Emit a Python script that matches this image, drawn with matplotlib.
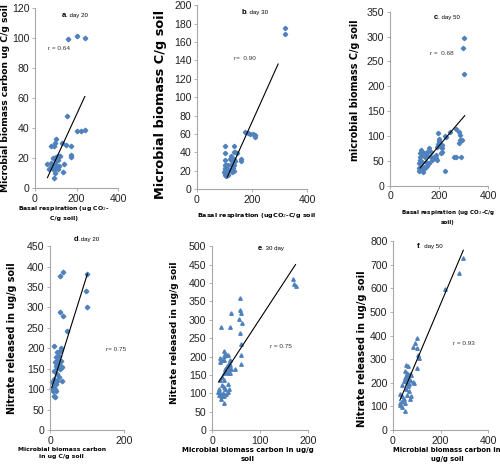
import matplotlib
matplotlib.use("Agg")
import matplotlib.pyplot as plt

# ---- panel a: basal respiration vs microbial biomass carbon, day 20
a_x = [160, 200, 240, 154, 202, 221, 240, 132, 151, 175, 175, 175, 103, 95, 79, 90,
       87, 95, 103, 111, 119, 111, 103, 60, 79, 87, 100, 114, 138, 75, 87, 95, 111,
       135, 95, 90, 84, 68]
a_y = [99, 101, 100, 48, 38, 38, 38.5, 30, 29, 28, 22, 20.5, 32.7, 30, 28, 28,
       20, 20.4, 21, 21.5, 21.5, 19, 18, 16, 17, 15.5, 15.5, 15, 16, 14, 12.7, 12.7, 12.7,
       11, 10.4, 6.7, 14, 12.7]
a_fit_x = [60, 240]
a_fit_y = [7, 61]

# ---- panel b: day 30
b_x = [320, 320, 174, 186, 194, 205, 211, 211, 100, 136, 100, 133, 139, 144, 161, 161,
       100, 120, 128, 100, 106, 114, 122, 133, 100, 100, 111, 119, 97, 106, 128, 136,
       130, 100, 106, 111, 103, 139, 136, 122]
b_y = [175, 169, 62, 61, 60, 60, 59, 57, 47, 47, 39, 40, 40, 39, 33, 30,
       32, 33, 30, 26, 26, 26, 26, 26, 23, 21, 21, 21, 19, 18, 19, 20,
       23, 15.5, 14, 15.5, 17, 30, 33, 36]
b_fit_x = [110, 295]
b_fit_y = [13, 136]

# ---- panel c: day 50
c_x = [303, 297, 301, 268, 281, 284, 284, 292, 281, 245, 230, 224, 261, 268, 288, 224,
       196, 200, 200, 197, 193, 207, 214, 211, 214, 207, 186, 189, 193, 180, 159, 166,
       126, 132, 139, 130, 122, 143, 153, 122, 132, 146, 159, 119, 126, 139, 153, 119,
       130, 119, 135, 173, 143, 166, 124, 153]
c_y = [298, 278, 225, 115, 108, 103, 93, 93, 86, 109, 99, 101, 58, 58, 58, 30,
       106, 95, 90, 85, 78, 79, 83, 75, 68, 65, 61, 55, 51, 58, 75, 68,
       71, 68, 66, 61, 58, 58, 61, 51, 48, 48, 45, 45, 38, 38, 39, 35,
       31, 29, 28, 51, 35, 58, 65, 68]
c_fit_x = [123, 305]
c_fit_y = [36, 141]

# ---- panel d: MBC vs nitrate, day 20
d_x = [101, 98, 101, 27, 36, 27, 36, 47, 11, 29, 27, 20, 24, 15, 20, 14, 24, 32, 20,
       15, 26, 11, 20, 24, 11, 20, 32, 15, 8, 14, 5, 8, 17, 10, 14, 23, 29, 6]
d_y = [382, 341, 302, 376, 386, 288, 280, 242, 206, 201, 194, 190, 182, 178, 170, 166,
       162, 155, 153, 158, 149, 145, 137, 129, 125, 121, 119, 113, 106, 100, 104, 96,
       96, 84, 80, 168, 170, 117]
d_fit_x = [5, 101]
d_fit_y = [104, 382]

# ---- panel e: day 30
e_x = [169, 171, 174, 59, 59, 61, 57, 62, 59, 61, 61, 61, 40, 19, 38, 24, 28, 31, 34,
       26, 17, 21, 17, 24, 37, 36, 38, 31, 28, 36, 40, 48, 29, 24, 33, 38, 21, 17, 26,
       34, 21, 24, 14, 28, 36, 12, 17, 22, 29, 14, 19, 24, 33, 19, 24]
e_y = [410, 397, 392, 358, 326, 319, 301, 292, 265, 234, 204, 181, 317, 281, 281, 215,
       208, 205, 204, 201, 195, 190, 185, 190, 190, 183, 178, 174, 167, 167, 165, 165,
       158, 154, 154, 156, 143, 137, 135, 124, 122, 117, 113, 113, 113, 104, 101, 101,
       99, 95, 92, 92, 104, 85, 74]
e_fit_x = [14, 174]
e_fit_y = [131, 450]

# ---- panel f: day 50
f_x = [296, 277, 221, 99, 91, 86, 100, 107, 110, 103, 53, 63, 49, 60, 71, 53, 63, 74,
       49, 60, 71, 46, 57, 67, 86, 39, 63, 53, 67, 74, 71, 31, 39, 46, 29, 39, 49, 29,
       39, 49, 57, 89, 54]
f_y = [730, 665, 598, 388, 367, 351, 349, 318, 304, 263, 276, 270, 249, 242, 239, 230,
       228, 235, 221, 216, 214, 207, 200, 197, 203, 189, 186, 172, 165, 144, 133, 151,
       144, 133, 116, 123, 116, 105, 99, 81, 147, 200, 214]
f_fit_x = [29, 296]
f_fit_y = [126, 761]

blue = "#4f81bd"
grey = "#a6a6a6"
tick_font = "Liberation Sans"
label_font = "Liberation Sans Narrow"

fig = plt.figure(figsize=(5.0, 4.68), dpi=100)

panels = [
    dict(rect=[0.070, 0.598, 0.166, 0.385], x=a_x, y=a_y, fx=a_fit_x, fy=a_fit_y,
         xlim=(0, 400), xt=[0, 200, 400], ylim=(0, 120), yt=range(0, 121, 20),
         marker="D", ms=2.3,
         ylabel="Microbial biomass carbon ug C/g soil", ysize=6.6, ypos=(-0.30, 0.5),
         xlabel="Basal respiration (ug CO$_2$-\nC/g soil)", xsize=4.4, xpos=(0.35, -0.09),
         tag="a", tagtxt=". day 20", tagpos=(150, 115), r="r = 0.64", rpos=(117, 93)),
    dict(rect=[0.394, 0.596, 0.220, 0.393], x=b_x, y=b_y, fx=b_fit_x, fy=b_fit_y,
         xlim=(0, 400), xt=[0, 200, 400], ylim=(0, 200), yt=range(0, 201, 20),
         marker="D", ms=2.2,
         ylabel="Microbial biomass C/g soil", ysize=9.3, ypos=(-0.27, 0.46),
         xlabel="Basal respiration (ugCO$_2$-C/g soil", xsize=4.6, xpos=(0.54, -0.12),
         tag="b", tagtxt=". day 30", tagpos=(180, 192), r="r=  0.90", rpos=(176, 142)),
    dict(rect=[0.780, 0.603, 0.196, 0.372], x=c_x, y=c_y, fx=c_fit_x, fy=c_fit_y,
         xlim=(0, 400), xt=[0, 200, 400], ylim=(0, 350), yt=range(0, 351, 50),
         marker="D", ms=2.2,
         ylabel="microbial biomass C/g soil", ysize=6.9, ypos=(-0.31, 0.55),
         xlabel="Basal respiration (ug CO$_2$-C/g\nsoil)", xsize=4.1, xpos=(0.59, -0.13),
         tag="c", tagtxt=". day 50", tagpos=(195, 338), r="r =  0.68", rpos=(210, 265)),
    dict(rect=[0.100, 0.081, 0.148, 0.393], x=d_x, y=d_y, fx=d_fit_x, fy=d_fit_y,
         xlim=(0, 200), xt=[0, 200], ylim=(0, 450), yt=range(0, 451, 50),
         marker="D", ms=2.3,
         ylabel="Nitrate released in ug/g soil", ysize=6.9, ypos=(-0.44, 0.5),
         xlabel="Microbial biomass carbon\nin ug C/g soil", xsize=4.4, xpos=(0.16, -0.09),
         tag="d", tagtxt=".day 20", tagpos=(78, 466), r="r= 0.75", rpos=(178, 196)),
    dict(rect=[0.424, 0.081, 0.192, 0.393], x=e_x, y=e_y, fx=e_fit_x, fy=e_fit_y,
         xlim=(0, 200), xt=[0, 100, 200], ylim=(0, 500), yt=range(0, 501, 50),
         marker="^", ms=2.5,
         ylabel="Nitrate released in ug/g soil", ysize=6.5, ypos=(-0.34, 0.53),
         xlabel="Microbial biomass carbon in ug/g\nsoil", xsize=5.0, xpos=(0.37, -0.09),
         tag="e", tagtxt=". 30 day", tagpos=(105, 494), r="r = 0.75", rpos=(143, 226)),
    dict(rect=[0.786, 0.081, 0.190, 0.404], x=f_x, y=f_y, fx=f_fit_x, fy=f_fit_y,
         xlim=(0, 400), xt=[0, 200, 400], ylim=(0, 800), yt=range(0, 801, 100),
         marker="^", ms=2.5,
         ylabel="Nitrate released in ug/g soil", ysize=7.1, ypos=(-0.27, 0.43),
         xlabel="Microbial biomass carbon in\nug/g soil", xsize=4.9, xpos=(0.57, -0.09),
         tag="f", tagtxt=".  day 50", tagpos=(110, 775), r="r = 0.93", rpos=(300, 367)),
]

for p in panels:
    ax = fig.add_axes(p["rect"])
    ax.plot(p["x"], p["y"], linestyle="none", marker=p["marker"], ms=p["ms"],
            color=blue, mec=blue, clip_on=False)
    ax.plot(p["fx"], p["fy"], color="black", lw=0.8, clip_on=False)
    ax.set_xlim(*p["xlim"])
    ax.set_ylim(*p["ylim"])
    ax.set_xticks(p["xt"])
    ax.set_yticks(list(p["yt"]))
    for s in ["top", "right"]:
        ax.spines[s].set_visible(False)
    for s in ["left", "bottom"]:
        ax.spines[s].set_color(grey)
        ax.spines[s].set_linewidth(0.8)
    ax.tick_params(axis="both", direction="out", length=2.5, width=0.6, color=grey,
                   labelsize=7.6, pad=1.5, labelcolor="#222222")
    for lab in ax.get_xticklabels() + ax.get_yticklabels():
        lab.set_fontfamily(tick_font)
    ax.set_ylabel(p["ylabel"], fontsize=p["ysize"], fontweight="bold", family=label_font)
    ax.yaxis.set_label_coords(*p["ypos"])
    ax.set_xlabel(p["xlabel"], fontsize=p["xsize"], fontweight="bold", family=label_font,
                  linespacing=1.6)
    ax.xaxis.set_label_coords(*p["xpos"])
    tx, ty = p["tagpos"]
    ax.annotate(p["tag"], (tx, ty), fontsize=5.5, fontweight="bold", ha="right",
                va="center", family=tick_font, annotation_clip=False)
    ax.annotate(p["tagtxt"], (tx, ty), fontsize=4.4, ha="left", va="center",
                family=tick_font, annotation_clip=False)
    rx, ry = p["rpos"]
    ax.text(rx, ry, p["r"], fontsize=4.6, ha="center", va="center", family=tick_font,
            color="#333333")

fig.savefig("out.png", dpi=100)
